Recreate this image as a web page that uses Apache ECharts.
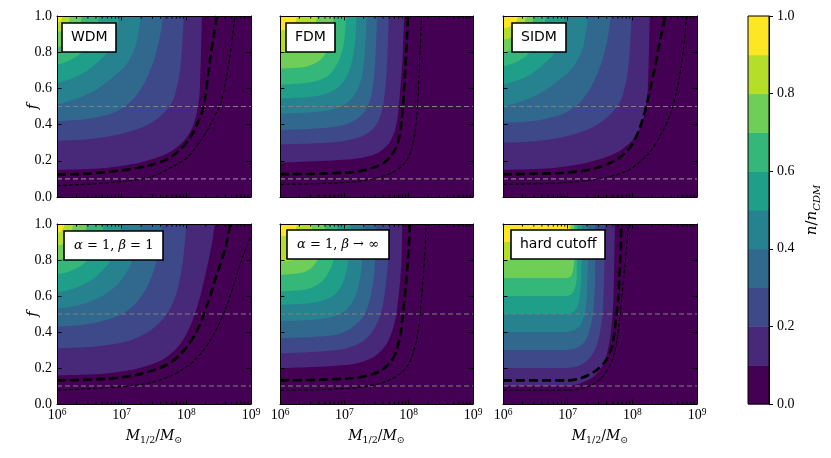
<!DOCTYPE html>
<html lang="en">
<head>
<meta charset="UTF-8">
<title>n/n_CDM contours</title>
<script src="https://cdn.jsdelivr.net/npm/echarts@6/dist/echarts.min.js"></script>
<style>
    html, body { margin: 0; padding: 0; background: #fff; }
    #main { width: 831px; height: 458px; }
</style>
</head>
<body>
<div id="main"></div>
<script>
    // contour levels and their fill colours (viridis, 10 bands)
    var levels = [0, 0.1, 0.2, 0.3, 0.4, 0.5, 0.6, 0.7, 0.8, 0.9, 1.0];
    var bandColors = ['#440154', '#482878', '#3e4989', '#31688e', '#26828e',
                      '#1f9e89', '#35b779', '#6ece58', '#b5de2b', '#fde725'];
    var cbTicks = [0, 0.2, 0.4, 0.6, 0.8, 1.0];
    var minorMult = [2, 3, 4, 5, 6, 7, 8, 9];
    var refF = [0.1, 0.5];
    var panelLabels = ['WDM', 'FDM', 'SIDM',
        '{m|\u03b1} = 1, {m|\u03b2} = 1', '{m|\u03b1} = 1, {m|\u03b2} \u2192 \u221e', 'hard cutoff'];

    // contour boundaries for n/n_CDM = 0.1 ... 0.9, points [log10 M_1/2, f]
    var wdmContours = [
        [[6,0.15],[6.75,0.16],[7.28,0.19],[7.7,0.24],[7.96,0.31],[8.1,0.39],[8.17,0.48],[8.21,0.6],[8.24,1]],
        [[6,0.31],[6.5,0.32],[7.0,0.35],[7.38,0.395],[7.64,0.46],[7.8,0.54],[7.91,0.72],[7.96,1]],
        [[6,0.42],[6.5,0.433],[6.9,0.47],[7.15,0.53],[7.35,0.63],[7.51,0.77],[7.6,0.9],[7.64,1]],
        [[6,0.51],[6.28,0.54],[6.59,0.59],[6.86,0.66],[7.07,0.73],[7.22,0.84],[7.3,1]],
        [[6,0.63],[6.21,0.652],[6.43,0.689],[6.63,0.745],[6.79,0.804],[6.9,0.882],[6.96,1]],
        [[6,0.73],[6.14,0.746],[6.29,0.773],[6.43,0.814],[6.53,0.857],[6.61,0.914],[6.65,1]],
        [[6,0.825],[6.08,0.836],[6.17,0.853],[6.25,0.879],[6.31,0.907],[6.36,0.944],[6.38,1]],
        [[6,0.91],[6.05,0.916],[6.1,0.927],[6.14,0.943],[6.17,0.96],[6.19,0.978],[6.2,1]],
        [[6,0.965],[6.03,0.968],[6.06,0.977],[6.08,0.99],[6.09,1]]
    ];
    var fdmContours = [
        [[6,0.19],[7.14,0.21],[7.5,0.24],[7.7,0.3],[7.81,0.4],[7.87,0.6],[7.91,0.8],[7.93,1]],
        [[6,0.29],[6.9,0.305],[7.3,0.34],[7.5,0.4],[7.6,0.5],[7.66,0.7],[7.69,1]],
        [[6,0.37],[6.8,0.385],[7.15,0.42],[7.33,0.48],[7.43,0.58],[7.48,0.75],[7.51,1]],
        [[6,0.46],[6.7,0.475],[7.0,0.51],[7.17,0.57],[7.27,0.66],[7.32,0.8],[7.35,1]],
        [[6,0.545],[6.6,0.56],[6.88,0.6],[7.03,0.66],[7.12,0.75],[7.17,0.86],[7.19,1]],
        [[6,0.62],[6.5,0.635],[6.75,0.67],[6.88,0.73],[6.97,0.81],[7.01,0.9],[7.03,1]],
        [[6,0.71],[6.4,0.72],[6.6,0.75],[6.72,0.8],[6.79,0.87],[6.82,0.93],[6.83,1]],
        [[6,0.8],[6.25,0.81],[6.4,0.84],[6.49,0.88],[6.54,0.92],[6.56,0.96],[6.57,1]],
        [[6,0.92],[6.12,0.93],[6.2,0.95],[6.25,0.975],[6.27,1]]
    ];
    var sidmContours = [
        [[6,0.15],[6.78,0.16],[7.31,0.19],[7.73,0.24],[7.99,0.31],[8.13,0.39],[8.2,0.48],[8.24,0.6],[8.27,1]],
        [[6,0.3],[6.53,0.31],[7.03,0.34],[7.41,0.39],[7.67,0.46],[7.83,0.54],[7.94,0.72],[7.99,1]],
        [[6,0.41],[6.53,0.423],[6.93,0.46],[7.18,0.52],[7.38,0.62],[7.54,0.76],[7.63,0.9],[7.67,1]],
        [[6,0.5],[6.3,0.53],[6.61,0.58],[6.88,0.65],[7.09,0.72],[7.24,0.83],[7.32,1]],
        [[6,0.62],[6.22,0.643],[6.44,0.68],[6.64,0.737],[6.8,0.797],[6.91,0.877],[6.97,1]],
        [[6,0.72],[6.15,0.737],[6.3,0.765],[6.44,0.807],[6.54,0.851],[6.62,0.91],[6.66,1]],
        [[6,0.8],[6.1,0.81],[6.2,0.83],[6.3,0.86],[6.38,0.9],[6.44,0.94],[6.48,1]],
        [[6,0.87],[6.08,0.875],[6.16,0.89],[6.24,0.91],[6.3,0.94],[6.34,0.97],[6.36,1]],
        [[6,0.93],[6.1,0.94],[6.18,0.96],[6.22,0.98],[6.23,1]]
    ];
    var ab1Contours = [
        [[6,0.16],[6.76,0.17],[7.28,0.2],[7.65,0.25],[7.9,0.33],[8.07,0.44],[8.2,0.58],[8.32,0.76],[8.4,0.9],[8.44,1]],
        [[6,0.31],[6.6,0.32],[7.1,0.35],[7.45,0.41],[7.7,0.5],[7.85,0.62],[7.95,0.8],[8.0,1]],
        [[6,0.43],[6.5,0.445],[6.95,0.49],[7.22,0.56],[7.42,0.67],[7.55,0.81],[7.62,1]],
        [[6,0.53],[6.35,0.55],[6.7,0.6],[6.95,0.67],[7.12,0.76],[7.24,0.87],[7.3,1]],
        [[6,0.62],[6.25,0.64],[6.5,0.68],[6.7,0.74],[6.85,0.81],[6.95,0.9],[7.0,1]],
        [[6,0.72],[6.18,0.735],[6.36,0.765],[6.5,0.81],[6.62,0.86],[6.69,0.925],[6.72,1]],
        [[6,0.8],[6.12,0.81],[6.24,0.83],[6.33,0.86],[6.4,0.9],[6.44,0.95],[6.46,1]],
        [[6,0.88],[6.07,0.885],[6.14,0.9],[6.19,0.92],[6.22,0.95],[6.25,1]],
        [[6,0.95],[6.05,0.956],[6.09,0.972],[6.11,0.99],[6.12,1]]
    ];
    var abInfContours = [
        [[6,0.2],[7.1,0.22],[7.45,0.26],[7.65,0.33],[7.78,0.45],[7.85,0.62],[7.89,0.8],[7.9,1]],
        [[6,0.282],[6.9,0.3],[7.25,0.34],[7.45,0.41],[7.58,0.52],[7.65,0.68],[7.69,0.85],[7.7,1]],
        [[6,0.366],[6.8,0.38],[7.1,0.42],[7.3,0.49],[7.41,0.6],[7.47,0.75],[7.5,1]],
        [[6,0.46],[6.7,0.475],[6.98,0.51],[7.13,0.57],[7.23,0.67],[7.28,0.8],[7.3,1]],
        [[6,0.55],[6.55,0.565],[6.82,0.6],[6.96,0.66],[7.04,0.75],[7.08,0.86],[7.1,1]],
        [[6,0.625],[6.45,0.64],[6.65,0.68],[6.77,0.74],[6.85,0.82],[6.89,0.91],[6.9,1]],
        [[6,0.717],[6.35,0.73],[6.5,0.76],[6.6,0.81],[6.66,0.87],[6.69,0.93],[6.7,1]],
        [[6,0.79],[6.2,0.8],[6.33,0.83],[6.41,0.87],[6.46,0.92],[6.49,0.96],[6.5,1]],
        [[6,0.93],[6.12,0.937],[6.2,0.955],[6.25,0.978],[6.27,1]]
    ];
    var hardContours = [
        [[6,0.1],[6.95,0.1],[7.15,0.11],[7.35,0.14],[7.5,0.19],[7.6,0.27],[7.67,0.4],[7.71,0.6],[7.73,1]],
        [[6,0.2],[6.95,0.2],[7.15,0.21],[7.3,0.24],[7.42,0.3],[7.5,0.4],[7.55,0.55],[7.58,1]],
        [[6,0.3],[6.95,0.3],[7.12,0.31],[7.25,0.34],[7.33,0.4],[7.39,0.5],[7.42,0.65],[7.43,1]],
        [[6,0.4],[6.95,0.4],[7.1,0.41],[7.2,0.44],[7.26,0.5],[7.3,0.6],[7.32,1]],
        [[6,0.5],[6.96,0.5],[7.08,0.51],[7.15,0.54],[7.19,0.6],[7.21,0.7],[7.22,1]],
        [[6,0.6],[6.97,0.6],[7.06,0.61],[7.11,0.64],[7.14,0.7],[7.15,1]],
        [[6,0.7],[6.98,0.7],[7.05,0.71],[7.08,0.74],[7.1,0.8],[7.1,1]],
        [[6,0.8],[6.99,0.8],[7.03,0.81],[7.05,0.85],[7.05,1]],
        [[6,0.9],[7.0,0.9],[7.02,0.92],[7.02,1]]
    ];

    // thick dashed and thin dashed limit curves, [log10 M_1/2, f]
    var wdmThick = [[6,0.124],[6.49,0.129],[7.01,0.148],[7.38,0.17],[7.7,0.208],[7.91,0.264],[8.06,0.33],[8.17,0.404],[8.25,0.479],[8.29,0.55],[8.37,0.768],[8.47,1]];
    var wdmThin = [[6,0.063],[6.49,0.071],[7.01,0.086],[7.43,0.108],[7.7,0.151],[8.01,0.217],[8.22,0.311],[8.38,0.404],[8.48,0.479],[8.55,0.536],[8.67,0.768],[8.75,1]];
    var fdmThick = [[6,0.126],[7.14,0.138],[7.6,0.185],[7.81,0.277],[7.89,0.425],[7.94,0.665],[7.99,1]];
    var fdmThin = [[6,0.07],[7.14,0.083],[7.65,0.12],[7.91,0.175],[8.04,0.258],[8.12,0.425],[8.16,0.665],[8.2,1]];
    var sidmThick = [[6,0.126],[6.9,0.133],[7.42,0.157],[7.78,0.212],[7.99,0.286],[8.14,0.406],[8.25,0.554],[8.35,0.72],[8.43,0.868],[8.51,1]];
    var sidmThin = [[6,0.07],[6.9,0.078],[7.52,0.102],[7.94,0.148],[8.25,0.24],[8.45,0.351],[8.61,0.48],[8.71,0.628],[8.79,0.813],[8.84,1]];
    var ab1Thick = [[6,0.131],[6.76,0.14],[7.28,0.166],[7.7,0.218],[7.95,0.292],[8.16,0.403],[8.32,0.55],[8.47,0.717],[8.6,0.864],[8.68,1]];
    var ab1Thin = [[6,0.076],[7.28,0.107],[7.8,0.163],[8.16,0.255],[8.42,0.384],[8.63,0.55],[8.78,0.717],[8.88,0.827],[9.0,0.938]];
    var abInfThick = [[6,0.131],[7.14,0.144],[7.55,0.181],[7.76,0.255],[7.86,0.366],[7.91,0.495],[7.96,0.68],[8.0,0.864],[8.02,1]];
    var abInfThin = [[6,0.076],[7.14,0.089],[7.65,0.126],[7.96,0.2],[8.12,0.347],[8.2,0.587],[8.25,0.827],[8.27,1]];
    var hardThick = [[6,0.131],[7.0,0.131],[7.21,0.144],[7.42,0.181],[7.58,0.236],[7.68,0.31],[7.73,0.42],[7.78,0.587],[7.82,0.864],[7.83,1]];
    var hardThin = [[6,0.076],[7.0,0.076],[7.32,0.098],[7.52,0.144],[7.68,0.236],[7.76,0.347],[7.81,0.495],[7.86,0.68],[7.91,0.864],[7.94,1]];

    var contourSets = [wdmContours, fdmContours, sidmContours, ab1Contours, abInfContours, hardContours];
    var thickSets = [wdmThick, fdmThick, sidmThick, ab1Thick, abInfThick, hardThick];
    var thinSets = [wdmThin, fdmThin, sidmThin, ab1Thin, abInfThin, hardThin];

    // page layout (pixels)
    var gLeft = [57, 280, 503, 57, 280, 503];
    var gTop = [16, 16, 16, 224, 224, 224];
    var gWidth = [194, 193, 194, 194, 193, 194];
    var gHeight = [181, 181, 181, 180, 180, 180];
    var boxLeft = [62, 286, 512, 64, 287, 511];
    var boxTop = [23, 23, 23, 231, 230, 230];

    var serif = 'Liberation Serif';
    var mathFont = 'DejaVu Serif';

    var minorTicks = [];
    for (var e = 6; e < 9; e++) {
        minorMult.forEach(function (k) { minorTicks.push([e + Math.log10(k)]); });
    }

    function plainLine() {
        return { show: true, onZero: false, lineStyle: { color: '#000', width: 1 } };
    }

    function xAxisFor(g, pos, showLabel, name) {
        return {
            gridIndex: g, type: 'value', min: 6, max: 9, interval: 1, position: pos, z: 10,
            axisLine: plainLine(),
            axisTick: { show: true, inside: true, length: 4.5, lineStyle: { color: '#000', width: 1 } },
            axisLabel: {
                show: showLabel, margin: 3, showMinLabel: true, showMaxLabel: true,
                formatter: function (v) { return '{b|10}{s|' + v + '}'; },
                rich: {
                    b: { fontFamily: serif, fontSize: 14, lineHeight: 17, color: '#000' },
                    s: { fontFamily: serif, fontSize: 9.5, lineHeight: 10, verticalAlign: 'top', color: '#000' }
                }
            },
            splitLine: { show: false },
            name: name || '', nameLocation: 'middle', nameGap: 22,
            nameTextStyle: {
                color: '#000',
                rich: {
                    i: { fontFamily: mathFont, fontStyle: 'italic', fontSize: 14, lineHeight: 20, color: '#000' },
                    n: { fontFamily: mathFont, fontSize: 14, lineHeight: 20, color: '#000' },
                    s: { fontFamily: mathFont, fontSize: 9.5, lineHeight: 11, verticalAlign: 'bottom', color: '#000' }
                }
            }
        };
    }

    function yAxisFor(g, pos, showLabel, name) {
        return {
            gridIndex: g, type: 'value', min: 0, max: 1, interval: 0.2, position: pos, z: 10,
            axisLine: plainLine(),
            axisTick: { show: true, inside: true, length: 4.5, lineStyle: { color: '#000', width: 1 } },
            axisLabel: {
                show: showLabel, margin: 5, showMinLabel: true, showMaxLabel: true,
                fontFamily: serif, fontSize: 14, color: '#000',
                formatter: function (v) { return v.toFixed(1); }
            },
            splitLine: { show: false },
            name: name || '', nameLocation: 'middle', nameGap: 16, nameRotate: 90,
            nameMoveOverlap: false,
            nameTextStyle: { fontFamily: mathFont, fontStyle: 'italic', fontSize: 15, color: '#000' }
        };
    }

    function renderMinor(params, api) {
        var x = api.value(0);
        var b = api.coord([x, 0]);
        var t = api.coord([x, 1]);
        return {
            type: 'group',
            children: [
                { type: 'line', shape: { x1: b[0], y1: b[1], x2: b[0], y2: b[1] - 2.6 }, style: { stroke: '#000', lineWidth: 1 } },
                { type: 'line', shape: { x1: t[0], y1: t[1], x2: t[0], y2: t[1] + 2.6 }, style: { stroke: '#000', lineWidth: 1 } }
            ]
        };
    }

    var grids = [], xAxes = [], yAxes = [], series = [], titles = [];

    contourSets.forEach(function (contours, p) {
        var bottomRow = p >= 3, firstCol = p % 3 === 0;
        grids.push({
            left: gLeft[p], top: gTop[p], width: gWidth[p], height: gHeight[p],
            show: true, backgroundColor: bandColors[0], borderWidth: 0, containLabel: false
        });
        xAxes.push(xAxisFor(p, 'bottom', bottomRow, bottomRow ? '{i|M}{s|1/2}{n|/}{i|M}{s|\u2299}' : ''));
        xAxes.push(xAxisFor(p, 'top', false));
        yAxes.push(yAxisFor(p, 'left', firstCol, firstCol ? 'f' : ''));
        yAxes.push(yAxisFor(p, 'right', false));
        var ax = 2 * p;

        contours.forEach(function (curve, i) {
            series.push({
                type: 'line', xAxisIndex: ax, yAxisIndex: ax, data: curve,
                smooth: 0.3, symbol: 'none', silent: true, z: 2,
                lineStyle: { width: 0, opacity: 0 },
                areaStyle: { origin: 'end', color: bandColors[i + 1], opacity: 1 }
            });
        });
        refF.forEach(function (f) {
            series.push({
                type: 'line', xAxisIndex: ax, yAxisIndex: ax, data: [[6, f], [9, f]],
                symbol: 'none', silent: true, z: 3,
                lineStyle: { color: '#808080', width: 1.2, type: [5, 3] }
            });
        });
        series.push({
            type: 'line', xAxisIndex: ax, yAxisIndex: ax, data: thinSets[p],
            smooth: 0.3, symbol: 'none', silent: true, z: 3,
            lineStyle: { color: '#000', width: 1.1, type: [4, 2] }
        });
        series.push({
            type: 'line', xAxisIndex: ax, yAxisIndex: ax, data: thickSets[p],
            smooth: 0.3, symbol: 'none', silent: true, z: 3,
            lineStyle: { color: '#000', width: 2.6, type: [9, 4] }
        });
        series.push({
            type: 'custom', xAxisIndex: ax, yAxisIndex: ax, data: minorTicks,
            coordinateSystem: 'cartesian2d', encode: { x: 0 }, renderItem: renderMinor,
            silent: true, z: 4, clip: false
        });

        var isMath = p === 3 || p === 4;
        titles.push({
            text: panelLabels[p], left: boxLeft[p], top: boxTop[p], z: 12,
            backgroundColor: '#fff', borderColor: '#000', borderWidth: 1.6,
            padding: isMath ? [6, 10] : [6, 9],
            textStyle: {
                fontFamily: isMath ? mathFont : 'DejaVu Sans',
                fontSize: isMath ? 13 : 14, fontWeight: 'normal',
                color: '#000', lineHeight: 17,
                rich: { m: { fontFamily: mathFont, fontStyle: 'italic', fontSize: 13, lineHeight: 17, color: '#000' } }
            }
        });
    });

    // colour bar
    var cb = 6;
    var cbAxis = 2 * cb;
    grids.push({ left: 748, top: 16, width: 21, height: 388, show: false });
    xAxes.push({ gridIndex: cb, type: 'value', min: 0, max: 1, position: 'bottom', show: false });
    yAxes.push({ gridIndex: cb, type: 'value', min: cbTicks[0], max: cbTicks[cbTicks.length - 1], interval: 0.2,
        position: 'right', z: 10,
        axisLine: plainLine(),
        axisTick: { show: true, inside: false, length: 4, lineStyle: { color: '#000', width: 1 } },
        axisLabel: { show: true, margin: 8, fontFamily: serif, fontSize: 14, color: '#000',
            showMinLabel: true, showMaxLabel: true,
            formatter: function (v) { return v.toFixed(1); } },
        splitLine: { show: false },
        name: '{i|n}{n|/}{i|n}{s|CDM}', nameLocation: 'middle', nameGap: 33, nameRotate: 90,
        nameMoveOverlap: false,
        nameTextStyle: {
            color: '#000',
            rich: {
                i: { fontFamily: mathFont, fontStyle: 'italic', fontSize: 15, lineHeight: 20, color: '#000' },
                n: { fontFamily: mathFont, fontSize: 15, lineHeight: 20, color: '#000' },
                s: { fontFamily: mathFont, fontStyle: 'italic', fontSize: 10, lineHeight: 11, verticalAlign: 'bottom', color: '#000' }
            }
        }
    });
    series.push({
        type: 'custom', xAxisIndex: cbAxis, yAxisIndex: cbAxis, coordinateSystem: 'cartesian2d',
        data: bandColors.map(function (c, i) { return [0, levels[i], levels[i + 1]]; }),
        encode: { x: 0, y: [1, 2] }, silent: true, z: 2, clip: false,
        renderItem: function (params, api) {
            var p0 = api.coord([0, api.value(1)]);
            var p1 = api.coord([1, api.value(2)]);
            var band = {
                type: 'rect',
                shape: { x: p0[0], y: p1[1], width: p1[0] - p0[0], height: p0[1] - p1[1] + 0.5 },
                style: { fill: bandColors[params.dataIndex] }
            };
            if (params.dataIndex !== bandColors.length - 1) {
                return band;
            }
            // outline of the whole bar, drawn with the last band
            var a = api.coord([0, levels[0]]);
            var b = api.coord([1, levels[levels.length - 1]]);
            return {
                type: 'group',
                children: [band, {
                    type: 'rect', z2: 5,
                    shape: { x: a[0], y: b[1], width: b[0] - a[0], height: a[1] - b[1] },
                    style: { fill: 'none', stroke: '#000', lineWidth: 1 }
                }]
            };
        }
    });

    var option = {
        animation: false,
        backgroundColor: '#fff',
        title: titles,
        grid: grids,
        xAxis: xAxes,
        yAxis: yAxes,
        series: series
    };

    var myChart = echarts.init(document.getElementById('main'), null, { renderer: 'canvas' });
    myChart.setOption(option);
</script>
</body>
</html>
